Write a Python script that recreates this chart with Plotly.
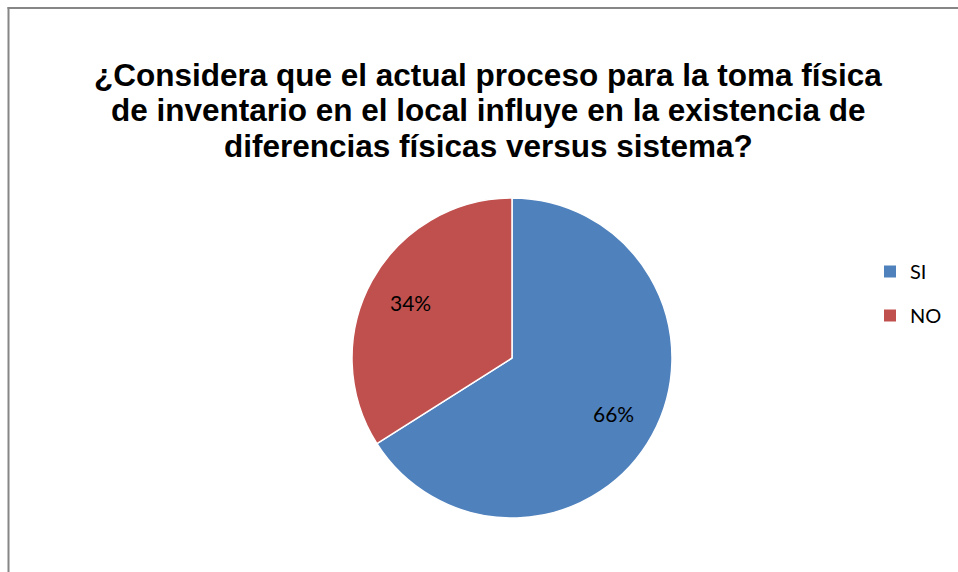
import numpy as np
import plotly.graph_objects as go

labels = ["SI", "NO"]
values = [66, 34]
colors = ["#4F81BD", "#C0504D"]
title_lines = ["¿Considera que el actual proceso para la toma física",
               "de inventario en el local influye en la existencia de",
               "diferencias físicas versus sistema?"]

W, H = 958, 572
cx, cy, R = 512, 358, 160
fig = go.Figure()

fig.add_trace(go.Pie(
    labels=labels, values=values, sort=False, direction="clockwise", rotation=0,
    marker=dict(colors=colors, line=dict(color="white", width=1.5)),
    textinfo="none",
    showlegend=False, hoverinfo="label+percent",
    domain=dict(x=[(cx - R) / W, (cx + R) / W], y=[(H - cy - R) / H, (H - cy + R) / H]),
))

# percentage labels placed at slice mid-angles (computed from the values)
vals = np.array(values, dtype=float)
frac = vals / vals.sum()
mid = (np.cumsum(frac) - frac / 2) * 2 * np.pi
rl = 0.725 * R
annotations = []
for f, a in zip(frac, mid):
    px = cx + rl * np.sin(a)
    py = cy - rl * np.cos(a)
    annotations.append(dict(
        x=px / W, y=1 - py / H, xref="paper", yref="paper",
        xanchor="center", yanchor="middle",
        text=f"{round(f * 100)}%", showarrow=False,
        font=dict(family="Lato, Open Sans, sans-serif", size=21, color="black"),
    ))

# title, one annotation per line (tight Excel-like line spacing)
for i, line in enumerate(title_lines):
    annotations.append(dict(
        x=488 / W, y=1 - (75.5 + 35 * i) / H, xref="paper", yref="paper",
        xanchor="center", yanchor="middle", showarrow=False,
        text=f"<b>{line}</b>",
        font=dict(family="Liberation Sans, Arial, sans-serif", size=31.5, color="black"),
    ))

for lab, col in zip(labels, colors):
    fig.add_trace(go.Scatter(
        x=[None], y=[None], mode="markers", name=lab, legendgroup=lab,
        marker=dict(symbol="square", size=12, color=col),
    ))

fig.update_layout(
    width=W, height=H,
    margin=dict(l=0, r=0, t=0, b=0),
    paper_bgcolor="white", plot_bgcolor="white",
    xaxis=dict(visible=False), yaxis=dict(visible=False),
    legend=dict(x=870 / W, xanchor="left", y=1 - 252 / H, yanchor="top",
                font=dict(family="Lato, Open Sans, sans-serif", size=20, color="black"),
                tracegroupgap=15, bgcolor="rgba(0,0,0,0)"),
    annotations=annotations,
    shapes=[
        dict(type="line", xref="paper", yref="paper",
             x0=8.5 / W, x1=8.5 / W, y0=0, y1=1 - 7 / H,
             line=dict(color="#868686", width=2), layer="above"),
        dict(type="line", xref="paper", yref="paper",
             x0=7.5 / W, x1=1, y0=1 - 8 / H, y1=1 - 8 / H,
             line=dict(color="#868686", width=2), layer="above"),
    ],
)

fig.write_html("out.html", config={"displayModeBar": False})
